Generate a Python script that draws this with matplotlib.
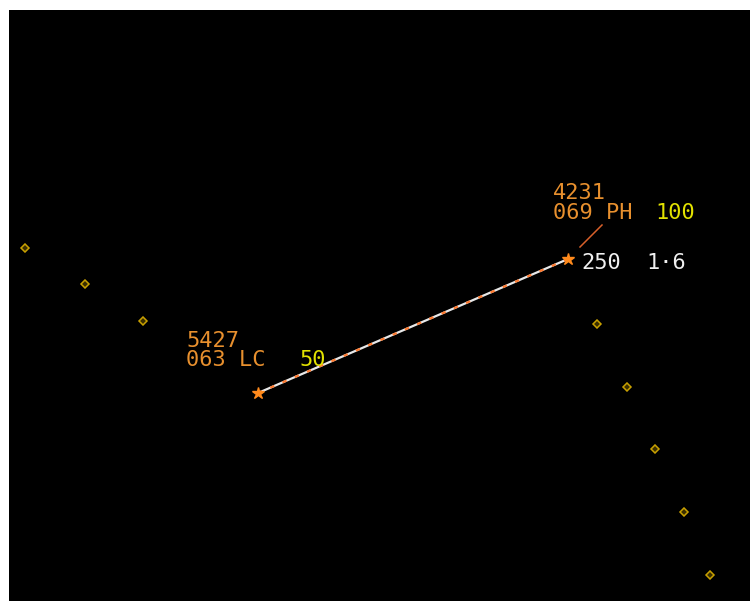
import matplotlib
matplotlib.use("Agg")
import matplotlib.pyplot as plt

# Screen positions (pixels, y down)
route_x = [25, 85, 143, 597, 627, 655, 684, 710]
route_y = [248, 284, 321, 324, 387, 449, 512, 575]

track_x = [258, 568]
track_y = [393, 259]

leader_x = [580, 602]
leader_y = [247, 225]

# Data blocks: (x, baseline y, text, colour)
labels = [
    (553, 199, "4231", "#E8902E"),
    (553, 219, "069 PH", "#E8902E"),
    (655, 219, "100", "#E2E200"),
    (581, 269, "250", "#F0F0F0"),
    (646, 269, "1\u00b76", "#F0F0F0"),
    (186, 347, "5427", "#E8902E"),
    (186, 366, "063 LC", "#E8902E"),
    (299, 366, "50", "#E2E200"),
]

W, H = 750, 601
fig = plt.figure(figsize=(W / 100, H / 100), dpi=100, facecolor="white")
ax = fig.add_axes([9 / W, 0, (W - 9) / W, (H - 10) / H])
ax.set_facecolor("black")
ax.set_xlim(9, W)
ax.set_ylim(H, 10)
ax.set_xticks([])
ax.set_yticks([])
for s in ax.spines.values():
    s.set_visible(False)

# route points
ax.plot(route_x, route_y, ls="none", marker="D", ms=3.8, mfc="#3A2E00",
        mec="#C8A000", mew=1.1)

# track line: white with orange dashes
ax.plot(track_x, track_y, color="#E8E8E8", lw=1.6, solid_capstyle="butt")
ax.plot(track_x, track_y, color="#FF7A30", lw=1.6, dashes=(2.0, 4.0))
ax.plot(track_x, track_y, ls="none", marker="*", ms=9, color="#FF8A1C",
        mec="#FF8A1C")

# leader line
ax.plot(leader_x, leader_y, color="#D8602A", lw=1.1)

for x, y, t, c in labels:
    ax.text(x, y, t, color=c, fontsize=15.8, family="DejaVu Sans Mono",
            ha="left", va="baseline")

fig.savefig("out.png", dpi=100, facecolor="white")
